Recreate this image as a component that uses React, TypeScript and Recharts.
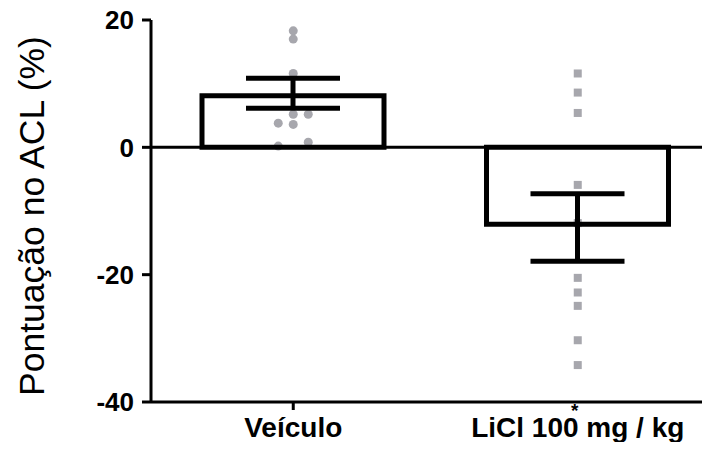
import React from 'react';
import {
  Bar,
  ComposedChart,
  ErrorBar,
  ReferenceLine,
  Scatter,
  XAxis,
  YAxis,
} from 'recharts';

const GROUPS = ['Veículo', 'LiCl 100 mg / kg'];
const MEANS = [8.1, -12.1];
const ERR_LOW = [1.95, 5.8];
const ERR_HIGH = [2.75, 4.8];

const VEHICLE_SCORES = [18.3, 17.0, 11.6, 5.2, 5.2, 3.8, 3.6, 0.2, 0.8];
// column of each dot inside the vehicle cloud (-1 left, 0 middle, 1 right)
const VEHICLE_LANES = [0, 0, 0, 0, 1, -1, 0, -1, 1];
const LICL_SCORES = [11.6, 8.6, 5.4, -5.9, -11.9, -20.5, -22.8, -24.9, -30.3, -34.2];

const Y_TICKS = [-40, -20, 0, 20];

const FONT = '"Liberation Sans", Arial, sans-serif';
const DOT = '#a7a7ad';

const bars = GROUPS.map((g, i) => ({
  pos: i + 0.5,
  group: g,
  mean: MEANS[i],
  err: [ERR_LOW[i], ERR_HIGH[i]],
}));

const vehiclePts = VEHICLE_SCORES.map((v, i) => ({ pos: 0.5, v, lane: VEHICLE_LANES[i] }));
const liclPts = LICL_SCORES.map((v) => ({ pos: 1.5, v }));

const Circle = (p: any) => (
  <circle cx={p.cx + p.payload.lane * 15} cy={p.cy} r={4.5} fill={DOT} />
);
const Square = (p: any) => <rect x={p.cx - 4} y={p.cy - 4} width={8} height={8} fill={DOT} />;

// group name under the axis; the LiCl tick carries the significance star instead of a line
const GroupTick = (p: any) => {
  const idx = Math.round(p.payload.value - 0.5);
  return (
    <g>
      {idx === 0 ? (
        <line x1={p.x} x2={p.x} y1={p.y} y2={p.y + 8} stroke="#000" strokeWidth={3} />
      ) : (
        <text x={p.x - 3} y={p.y + 15} textAnchor="middle" fontFamily={FONT} fontWeight="bold" fontSize={19} fill="#000">
          *
        </text>
      )}
      <text x={p.x} y={p.y + 35} textAnchor="middle" fontFamily={FONT} fontWeight="bold" fontSize={28} fill="#000">
        {GROUPS[idx]}
      </text>
    </g>
  );
};

const YTitle = () => (
  <text
    x={44}
    y={216}
    transform="rotate(-90 44 216)"
    textAnchor="middle"
    fontFamily={FONT}
    fontSize={35.5}
    fill="#000"
  >
    Pontuação no ACL (%)
  </text>
);

export default function App() {
  return (
    <div style={{ margin: -8, width: 710, height: 450, overflow: 'hidden', background: '#fff' }}>
      <ComposedChart width={720} height={450} data={bars} margin={{ top: 20, right: 0, left: 0, bottom: 0 }}>
        <XAxis
          dataKey="pos"
          type="number"
          domain={[0, 2]}
          ticks={[0.5, 1.5]}
          height={48}
          axisLine={{ stroke: '#000', strokeWidth: 3 }}
          tickLine={false}
          tickSize={0}
          tickMargin={0}
          tick={<GroupTick />}
        />
        <YAxis
          type="number"
          domain={[-40, 20]}
          ticks={Y_TICKS}
          width={151}
          axisLine={{ stroke: '#000', strokeWidth: 3 }}
          tickLine={{ stroke: '#000', strokeWidth: 3 }}
          tickSize={9}
          tickMargin={8}
          tick={{ fill: '#000', fontFamily: FONT, fontWeight: 'bold', fontSize: 26 }}
          label={<YTitle />}
        />
        <Scatter data={vehiclePts} dataKey="v" shape={<Circle />} isAnimationActive={false} zIndex={250} />
        <Scatter data={liclPts} dataKey="v" shape={<Square />} isAnimationActive={false} zIndex={250} />
        <ReferenceLine y={0} stroke="#000" strokeWidth={3} />
        <Bar dataKey="mean" barSize={182} fill="none" stroke="#000" strokeWidth={5} isAnimationActive={false}>
          <ErrorBar dataKey="err" direction="y" width={47} stroke="#000" strokeWidth={5} />
        </Bar>
      </ComposedChart>
    </div>
  );
}
